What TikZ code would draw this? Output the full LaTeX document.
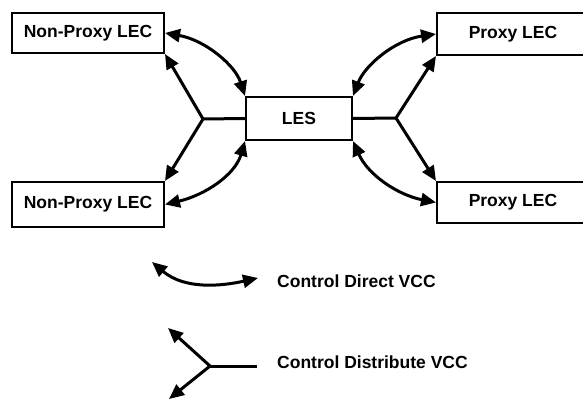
\documentclass[tikz,border=0pt]{standalone}
\usepackage{fontspec}
\setmainfont{Liberation Sans}
\usetikzlibrary{arrows.meta}
\begin{document}
\begin{tikzpicture}[x=1pt,y=-1pt,
  box/.style={draw,line width=2pt,inner sep=0pt,font=\fontsize{17.5}{20}\selectfont\bfseries},
  conn/.style={line width=3pt},
  tip/.style={conn,-{Triangle[length=15pt,width=13pt]}},
  dbl/.style={conn,{Triangle[length=15pt,width=13pt]}-{Triangle[length=15pt,width=13pt]}},
  lbl/.style={anchor=west,inner sep=0pt,font=\fontsize{17.5}{20}\selectfont\bfseries}]
\useasboundingbox (0,0) rectangle (583,401);
% boxes
\node[box,minimum width=152pt,minimum height=40pt] (npl1) at (88,33) {Non-Proxy LEC};
\node[box,minimum width=152pt,minimum height=45pt] (npl2) at (88,204.5) {Non-Proxy LEC};
\node[box,minimum width=106pt,minimum height=43pt] (les) at (299,118.5) {LES};
\node[box,minimum width=152pt,minimum height=42pt] (pl1) at (513,34) {Proxy LEC};
\node[box,minimum width=152pt,minimum height=41pt] (pl2) at (513,202.5) {Proxy LEC};
% fork points
\coordinate (fl) at (203,119);
\coordinate (fr) at (396,118);
% left side
\draw[conn] (les.west) -- (fl);
\draw[tip] (fl) -- (npl1.south east);
\draw[tip] (fl) -- (npl2.north east);
\draw[dbl] (npl1.east) .. controls (205,40) and (235,65) .. (les.north west);
\draw[dbl] (les.south west) .. controls (235,175) and (205,195) .. (npl2.east);
% right side
\draw[conn] (les.east) -- (fr);
\draw[tip] (fr) -- (pl1.south west);
\draw[tip] (fr) -- (pl2.north west);
\draw[dbl] (les.north east) .. controls (365,65) and (395,40) .. (pl1.west);
\draw[dbl] (les.south east) .. controls (368,175) and (398,195) .. (pl2.west);
% legend
\coordinate (da) at (152,262);
\coordinate (db) at (258,278);
\draw[dbl] (da) .. controls (185,290) and (222,286) .. (db);
\node[lbl] (t1) at (277,281) {Control Direct VCC};
\coordinate (lf) at (210,366);
\coordinate (lr) at (257,366);
\coordinate (lu) at (168,328);
\coordinate (ld) at (169,399);
\draw[conn] (lr) -- (lf);
\draw[tip] (lf) -- (lu);
\draw[tip] (lf) -- (ld);
\node[lbl] (t2) at (277,362) {Control Distribute VCC};
\end{tikzpicture}
\end{document}
